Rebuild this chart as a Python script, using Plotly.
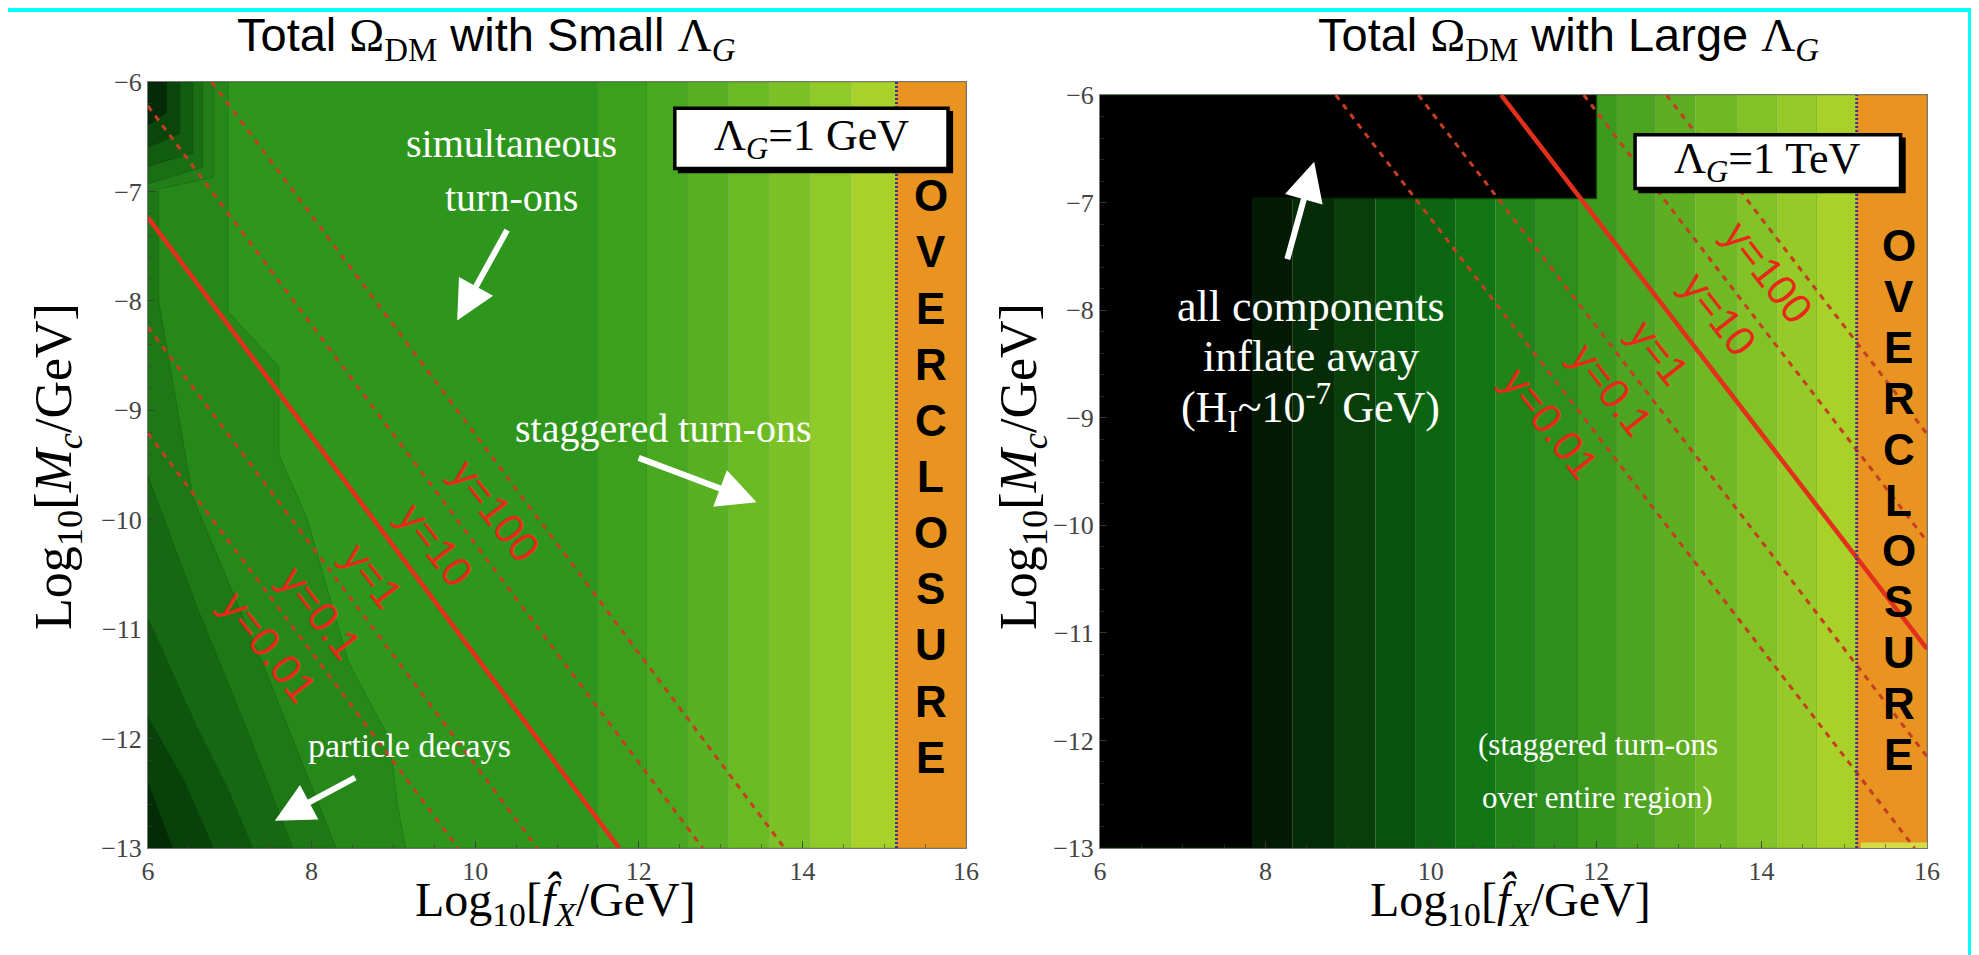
import plotly.graph_objects as go

# ---------------- data ----------------
X_RANGE = [6, 16]
Y_RANGE = [-13, -6]
x_ticks = [6, 8, 10, 12, 14, 16]
y_ticks = [-13, -12, -11, -10, -9, -8, -7, -6]

overclosure_edge = 15.15
overclosure_color = "rgb(233,148,32)"

# Left panel (Lambda_G = 1 GeV)
left_base_color = "rgb(46,150,28)"
left_band_edges = [11.5, 12.1, 12.6, 13.1, 13.6, 14.1, 14.6, 15.15]
left_band_colors = ["rgb(60,160,30)", "rgb(72,168,32)", "rgb(88,176,34)",
                    "rgb(106,186,36)", "rgb(124,194,38)", "rgb(144,202,40)",
                    "rgb(168,210,42)"]
left_diag_x = [
    [6.0, 6.98, 6.98, 7.6, 7.6, 7.95, 8.45, 8.95, 9.05, 9.15],
    [6.0, 6.13, 6.13, 6.55, 7.45, 8.3],
    [6.0, 6.6, 7.2, 7.77],
    [6.0, 6.6, 7.0, 7.28],
    [6.0, 6.45, 6.8],
    [6.0, 6.3],
]
left_diag_y = [
    [-6.0, -6.0, -8.1, -8.6, -9.4, -10.0, -11.3, -12.0, -12.6, -13.0],
    [-7.0, -7.0, -8.0, -9.8, -11.4, -13.0],
    [-9.6, -10.8, -11.9, -13.0],
    [-10.9, -11.9, -12.5, -13.0],
    [-11.8, -12.4, -13.0],
    [-12.4, -13.0],
]
left_diag_colors = ["rgb(38,136,25)", "rgb(30,120,22)", "rgb(22,104,18)",
                    "rgb(14,86,14)", "rgb(8,66,10)", "rgb(3,44,6)"]
left_corner_x = [6.80, 6.67, 6.55, 6.39, 6.23]
left_corner_yv = [-6.87, -6.78, -6.65, -6.47, -6.28]
left_corner_yl = [-7.0, -6.93, -6.77, -6.6, -6.4]
left_corner_colors = ["rgb(34,126,24)", "rgb(26,110,20)", "rgb(18,92,16)",
                      "rgb(10,70,12)", "rgb(4,42,8)"]

# Right panel (Lambda_G = 1 TeV)
right_band_edges = [7.85, 8.33, 8.83, 9.33, 9.81, 10.3, 10.78, 11.27, 11.78,
                    12.25, 12.72, 13.2, 13.71, 14.19, 14.67, 15.15]
right_band_colors = ["rgb(4,26,5)", "rgb(5,44,7)", "rgb(7,62,10)", "rgb(9,82,13)",
                     "rgb(12,102,17)", "rgb(18,118,21)", "rgb(32,132,25)",
                     "rgb(46,144,28)", "rgb(60,154,30)", "rgb(76,164,32)",
                     "rgb(94,174,34)", "rgb(112,184,36)", "rgb(130,194,38)",
                     "rgb(150,202,40)", "rgb(168,210,42)"]
right_black_x = [6.0, 7.85, 7.85, 12.0, 12.0, 6.0]
right_black_y = [-13.0, -13.0, -6.96, -6.96, -6.0, -6.0]
right_strip_x = [15.2, 16.0, 16.0, 15.2]
right_strip_y = [-13.0, -13.0, -12.95, -12.95]

# y-contours (the y=1 one is drawn solid)
contour_labels = ["y=0.01", "y=0.1", "y=1", "y=10", "y=100"]
left_line_x0 = [6.0, 6.0, 6.0, 6.0, 6.78]
left_line_y0 = [-9.21, -8.24, -7.24, -6.22, -6.0]
left_line_x1 = [9.79, 10.76, 11.76, 12.78, 13.78]
left_line_y1 = [-13.0, -13.0, -13.0, -13.0, -13.0]
right_line_x0 = [8.85, 9.85, 10.85, 11.85, 12.85]
right_line_y0 = [-6.0, -6.0, -6.0, -6.0, -6.0]
right_line_x1 = [15.85, 16.0, 16.0, 16.0, 16.0]
right_line_y1 = [-13.0, -12.15, -11.15, -10.15, -9.15]
left_label_x = [7.47, 8.10, 8.74, 9.51, 10.24]
left_label_y = [-11.16, -10.85, -10.51, -10.23, -9.92]
right_label_x = [11.45, 12.18, 12.76, 13.48, 14.08]
right_label_y = [-9.05, -8.74, -8.39, -8.03, -7.65]

overclosure_word = "OVERCLOSURE"

# ---------------- figure ----------------
W, H = 1979, 955
SHIFT = 8  # page offset compensation (px)


def px(xp):
    return (xp - SHIFT) / W


def py(yp):
    return 1 - (yp - SHIFT) / H


fig = go.Figure()
SERIF = "Liberation Serif, Times New Roman, serif"
SANS = "Liberation Sans Narrow, Liberation Sans, Arial, sans-serif"
EDGE = "rgba(0,50,0,0.25)"


def poly(xs, ys, color, xa, ya, edge=EDGE, w=0.8):
    fig.add_trace(go.Scatter(x=xs, y=ys, mode="lines", fill="toself",
                             fillcolor=color, line=dict(color=edge, width=w),
                             hoverinfo="skip", showlegend=False,
                             xaxis=xa, yaxis=ya))


def rect(x0, x1, color, xa, ya):
    poly([x0, x1, x1, x0], [Y_RANGE[0], Y_RANGE[0], Y_RANGE[1], Y_RANGE[1]],
         color, xa, ya)


# left panel fills
rect(X_RANGE[0], left_band_edges[0], left_base_color, "x", "y")
for i, c in enumerate(left_band_colors):
    rect(left_band_edges[i], left_band_edges[i + 1], c, "x", "y")
rect(overclosure_edge, X_RANGE[1], overclosure_color, "x", "y")
for xs, ys, c in zip(left_diag_x, left_diag_y, left_diag_colors):
    poly(xs + [6.0], ys + [-13.0], c, "x", "y")
for xr, yv, yl, c in zip(left_corner_x, left_corner_yv, left_corner_yl, left_corner_colors):
    poly([6.0, xr, xr, 6.0], [-6.0, -6.0, yv, yl], c, "x", "y")

# right panel fills
for i, c in enumerate(right_band_colors):
    rect(right_band_edges[i], right_band_edges[i + 1], c, "x2", "y2")
rect(overclosure_edge, X_RANGE[1], overclosure_color, "x2", "y2")
poly(right_black_x, right_black_y, "black", "x2", "y2", edge="rgba(0,40,0,0.6)", w=2)
poly(right_strip_x, right_strip_y, "rgb(214,220,70)", "x2", "y2", edge="rgba(0,0,0,0)", w=0)

# contour lines
for xa, ya, X0, Y0, X1, Y1 in [("x", "y", left_line_x0, left_line_y0, left_line_x1, left_line_y1),
                               ("x2", "y2", right_line_x0, right_line_y0, right_line_x1, right_line_y1)]:
    for i in range(len(contour_labels)):
        solid = contour_labels[i] == "y=1"
        fig.add_trace(go.Scatter(
            x=[X0[i], X1[i]], y=[Y0[i], Y1[i]], mode="lines",
            line=dict(color="rgb(226,48,28)" if solid else "rgb(196,62,34)",
                      width=4.5 if solid else 3,
                      dash="solid" if solid else "6px,6px"),
            hoverinfo="skip", showlegend=False, xaxis=xa, yaxis=ya))
    fig.add_trace(go.Scatter(
        x=[overclosure_edge, overclosure_edge], y=Y_RANGE, mode="lines",
        line=dict(color="rgb(70,50,130)", width=3, dash="2px,2px"),
        hoverinfo="skip", showlegend=False, xaxis=xa, yaxis=ya))

# ---------------- layout ----------------
L_DOM = [px(148), px(966)]
R_DOM = [px(1100), px(1927)]
L_YDOM = [py(848), py(82)]
R_YDOM = [py(848), py(95)]

axis_common = dict(showgrid=False, zeroline=False, showline=True, linecolor="#777",
                   linewidth=1, mirror=True, ticks="inside", ticklen=7, automargin=False,
                   tickcolor="rgba(60,60,60,0.8)",
                   tickfont=dict(family=SERIF, size=26, color="#444"))
xcommon = dict(axis_common, range=X_RANGE, tickvals=x_ticks,
               minor=dict(ticks="inside", ticklen=4, dtick=0.5, tickcolor="rgba(60,60,60,0.6)"))
ycommon = dict(axis_common, range=Y_RANGE, tickvals=y_ticks,
               minor=dict(ticks="inside", ticklen=4, dtick=0.2, tickcolor="rgba(60,60,60,0.6)"))

fig.update_layout(
    width=W, height=H, autosize=False,
    margin=dict(l=0, r=0, t=0, b=0, pad=0),
    paper_bgcolor="rgb(0,255,255)",
    plot_bgcolor="white",
    xaxis=dict(xcommon, domain=L_DOM, anchor="y"),
    yaxis=dict(ycommon, domain=L_YDOM, anchor="x"),
    xaxis2=dict(xcommon, domain=R_DOM, anchor="y2"),
    yaxis2=dict(ycommon, domain=R_YDOM, anchor="x2"),
)

shapes = [dict(type="rect", xref="paper", yref="paper", x0=px(6), x1=px(1968),
               y0=-0.05, y1=py(12), fillcolor="white", line=dict(width=0), layer="below")]
# legend boxes (with a slight drop shadow on the right/bottom)
for xr, yr, x0, x1, y0, y1 in [("x", "y", 12.44, 15.78, -6.79, -6.24),
                               ("x2", "y2", 12.47, 15.68, -6.87, -6.37)]:
    shapes.append(dict(type="rect", xref=xr, yref=yr, x0=x0 + 0.05, x1=x1 + 0.05,
                       y0=y0 - 0.035, y1=y1 - 0.035,
                       fillcolor="black", line=dict(color="black", width=2), layer="above"))
    shapes.append(dict(type="rect", xref=xr, yref=yr, x0=x0, x1=x1, y0=y0, y1=y1,
                       fillcolor="white", line=dict(color="black", width=3.5), layer="above"))
fig.update_layout(shapes=shapes)

ann = []


def note(xr, yr, x, y, text, size, color="black", family=SERIF, angle=0):
    ann.append(dict(xref=xr, yref=yr, x=x, y=y, text=text, showarrow=False,
                    xanchor="center", yanchor="middle", textangle=angle,
                    font=dict(family=family, size=size, color=color)))


# titles
note("paper", "paper", px(486), py(38),
     "Total <span style='font-family:Liberation Serif'>Ω<sub>DM</sub></span> with Small <span style='font-family:Liberation Serif'>Λ<sub><i>G</i></sub></span>",
     47, family=SANS)
note("paper", "paper", px(1568), py(38),
     "Total <span style='font-family:Liberation Serif'>Ω<sub>DM</sub></span> with Large <span style='font-family:Liberation Serif'>Λ<sub><i>G</i></sub></span>",
     47, family=SANS)
# axis titles
for xc in [555, 1510]:
    note("paper", "paper", px(xc), py(902),
         "Log<sub>10</sub>[<i>f̂</i><sub><i>X</i></sub>/GeV]", 48)
for xc in [57, 1022]:
    note("paper", "paper", px(xc), py(467),
         "Log<sub>10</sub>[<i>M<sub>c</sub></i>/GeV]", 52, angle=-90)
# legend texts
note("x", "y", 14.11, -6.515, "Λ<sub><i>G</i></sub>=1 GeV", 44)
note("x2", "y2", 14.07, -6.62, "Λ<sub><i>G</i></sub>=1 TeV", 44)

# overclosure letters
for xr, yr, xc, ytop, ybot in [("x", "y", 15.57, -7.04, -12.17), ("x2", "y2", 15.66, -7.40, -12.13)]:
    n = len(overclosure_word)
    for i, ch in enumerate(overclosure_word):
        note(xr, yr, xc, ytop + (ybot - ytop) * i / (n - 1), "<b>" + ch + "</b>", 44,
             family="Liberation Sans, Arial")

# contour labels
for xr, yr, LX, LY in [("x", "y", left_label_x, left_label_y), ("x2", "y2", right_label_x, right_label_y)]:
    for t, lx, ly in zip(contour_labels, LX, LY):
        note(xr, yr, lx, ly, t, 42, color="rgb(232,40,24)", family=SANS, angle=52)

# white texts
note("x", "y", 10.44, -6.56, "simultaneous", 40, color="white")
note("x", "y", 10.44, -7.06, "turn-ons", 40, color="white")
note("x", "y", 12.30, -9.17, "staggered turn-ons", 40, color="white")
note("x", "y", 9.20, -12.06, "particle decays", 34, color="white")
note("x2", "y2", 8.55, -7.97, "all components", 44, color="white")
note("x2", "y2", 8.55, -8.43, "inflate away", 44, color="white")
note("x2", "y2", 8.55, -8.91, "(H<sub>I</sub>~10<sup>-7</sup> GeV)", 44, color="white")
note("x2", "y2", 12.02, -12.04, "(staggered turn-ons", 31, color="white")
note("x2", "y2", 12.02, -12.53, "over entire region)", 31, color="white")


# white arrows (tail -> head)
def warrow(xr, yr, tx, ty, hx, hy):
    ann.append(dict(xref=xr, yref=yr, axref=xr, ayref=yr, x=hx, y=hy, ax=tx, ay=ty,
                    text="", showarrow=True, arrowhead=2, arrowsize=1.3,
                    arrowwidth=6, arrowcolor="white"))


warrow("x", "y", 10.40, -7.34, 9.78, -8.18)
warrow("x", "y", 11.98, -9.43, 13.44, -9.84)
warrow("x", "y", 8.55, -12.35, 7.55, -12.75)
warrow("x2", "y2", 8.26, -7.54, 8.59, -6.62)

fig.update_layout(annotations=ann)
fig.write_html("out.html")
